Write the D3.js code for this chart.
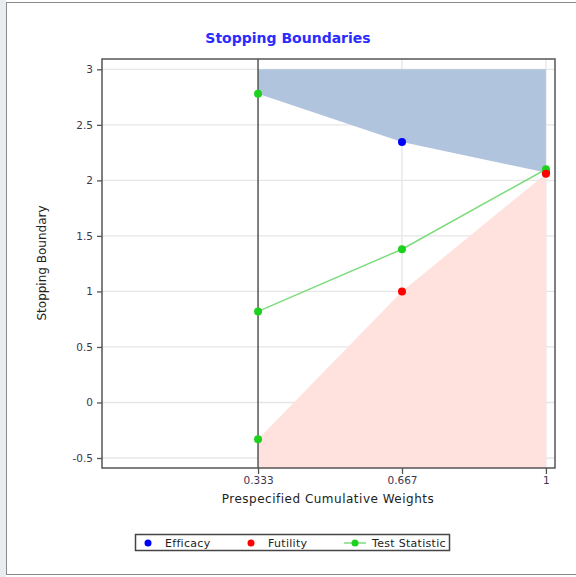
<!DOCTYPE html>
<html>
<head>
<meta charset="utf-8">
<script src="https://cdn.jsdelivr.net/npm/d3@7"></script>
<style>
  html, body { margin: 0; padding: 0; background: #fff; }
  svg { display: block; font-family: "DejaVu Sans", Verdana, sans-serif; }
</style>
</head>
<body>
<div id="chart"></div>
<script>
(function () {
  'use strict';

  // data
  var weights = [1 / 3, 2 / 3, 1];
  var weightLabels = ["0.333", "0.667", "1"];
  var efficacy = [2.78, 2.345, 2.07];
  var futility = [-0.33, 1.0, 2.06];
  var testStat = [0.82, 1.38, 2.10];
  var efficacyCap = 3;
  var yTicks = [-0.5, 0, 0.5, 1, 1.5, 2, 2.5, 3];

  var width = 576, height = 577;
  var left = 102, right = 555, top = 59, bottom = 468;

  var svg = d3.select("#chart").append("svg")
      .attr("width", width)
      .attr("height", height);

  // outer frame
  svg.append("rect").attr("x", 0).attr("y", 0).attr("width", 6).attr("height", height)
      .attr("fill", "#e9edf2");
  svg.append("rect")
      .attr("x", 6.5).attr("y", 2.5)
      .attr("width", width).attr("height", 572)
      .attr("fill", "#fff")
      .attr("stroke", "#8a8a8a");

  var x = d3.scaleLinear().domain([-0.028, 1.021]).range([left, right]);
  var y = d3.scaleLinear().domain([-0.59, 3.093]).range([bottom, top]);

  // title
  svg.append("text")
      .attr("x", 288).attr("y", 43)
      .attr("text-anchor", "middle")
      .attr("fill", "#2b2bff")
      .attr("font-size", 14)
      .attr("font-weight", "bold")
      .text("Stopping Boundaries");

  // gridlines
  svg.append("g").selectAll("line")
    .data(yTicks)
    .enter().append("line")
      .attr("x1", left).attr("x2", right)
      .attr("y1", function(d){ return y(d); })
      .attr("y2", function(d){ return y(d); })
      .attr("stroke", "#e6e6e6").attr("stroke-width", 1.3);

  svg.append("g").selectAll("line")
    .data(weights.slice(1))
    .enter().append("line")
      .attr("x1", function(d){ return x(d); })
      .attr("x2", function(d){ return x(d); })
      .attr("y1", top).attr("y2", bottom)
      .attr("stroke", "#e6e6e6").attr("stroke-width", 1.3);

  // rejection regions
  var effRegion = [[weights[0], efficacyCap]]
    .concat(weights.map(function(w, i){ return [w, efficacy[i]]; }))
    .concat([[weights[2], efficacyCap]]);
  svg.append("path")
      .datum(effRegion)
      .attr("fill", "#b0c4de")
      .attr("d", d3.line().x(function(d){ return x(d[0]); }).y(function(d){ return y(d[1]); }));

  var yMin = y.domain()[0];
  var futRegion = [[weights[0], yMin]]
    .concat(weights.map(function(w, i){ return [w, futility[i]]; }))
    .concat([[weights[2], yMin]]);
  svg.append("path")
      .datum(futRegion)
      .attr("fill", "#ffe1de")
      .attr("d", d3.line().x(function(d){ return x(d[0]); }).y(function(d){ return y(d[1]); }));

  // reference line at first look
  svg.append("line")
      .attr("x1", x(weights[0])).attr("x2", x(weights[0]))
      .attr("y1", top).attr("y2", bottom)
      .attr("stroke", "#555").attr("stroke-width", 1.5);

  // plot frame
  svg.append("rect")
      .attr("x", left).attr("y", top)
      .attr("width", right - left).attr("height", bottom - top)
      .attr("fill", "none")
      .attr("stroke", "#555").attr("stroke-width", 1.5);

  // axes
  var yAxis = svg.append("g")
      .attr("transform", "translate(" + left + ",0)")
      .call(d3.axisLeft(y).tickValues(yTicks).tickSize(5).tickPadding(4)
        .tickFormat(function(d){ return String(d); }));
  var xAxis = svg.append("g")
      .attr("transform", "translate(0," + bottom + ")")
      .call(d3.axisBottom(x).tickValues(weights).tickSize(6).tickPadding(3)
        .tickFormat(function(d, i){ return weightLabels[i]; }));
  [yAxis, xAxis].forEach(function(a){
    a.select(".domain").remove();
    a.selectAll(".tick line").attr("stroke", "#555").attr("stroke-width", 1.3);
    a.selectAll(".tick text").attr("fill", "#3d3550").attr("font-size", 10.5)
      .attr("font-family", "\"DejaVu Sans\", Verdana, sans-serif");
  });

  // axis titles
  svg.append("text")
      .attr("x", 328).attr("y", 503)
      .attr("text-anchor", "middle")
      .attr("fill", "#222").attr("font-size", 12)
      .attr("letter-spacing", 0.5)
      .text("Prespecified Cumulative Weights");
  svg.append("text")
      .attr("transform", "translate(46,263) rotate(-90)")
      .attr("text-anchor", "middle")
      .attr("fill", "#222").attr("font-size", 12)
      .text("Stopping Boundary");

  // markers: first look drawn green as in the reference
  function markerColor(base, i){ return i === 0 ? "#1fd11f" : base; }

  svg.append("g").selectAll("circle")
    .data(efficacy)
    .enter().append("circle")
      .attr("cx", function(d, i){ return x(weights[i]); })
      .attr("cy", function(d){ return y(d); })
      .attr("r", 4)
      .attr("fill", function(d, i){ return markerColor("#0000ff", i); });

  svg.append("path")
      .datum(testStat)
      .attr("fill", "none")
      .attr("stroke", "#7ddc7d").attr("stroke-width", 1.5)
      .attr("d", d3.line().x(function(d, i){ return x(weights[i]); }).y(function(d){ return y(d); }));

  svg.append("g").selectAll("circle")
    .data(testStat)
    .enter().append("circle")
      .attr("cx", function(d, i){ return x(weights[i]); })
      .attr("cy", function(d){ return y(d); })
      .attr("r", 4)
      .attr("fill", "#1fd11f");

  svg.append("g").selectAll("circle")
    .data(futility)
    .enter().append("circle")
      .attr("cx", function(d, i){ return x(weights[i]); })
      .attr("cy", function(d){ return y(d); })
      .attr("r", 4)
      .attr("fill", function(d, i){ return markerColor("#ff0000", i); });

  // legend
  var legend = svg.append("g");
  legend.append("rect")
      .attr("x", 135.5).attr("y", 534.5)
      .attr("width", 314).attr("height", 16)
      .attr("fill", "#fff")
      .attr("stroke", "#444").attr("stroke-width", 1.5);
  var items = [
    { label: "Efficacy", color: "#0000ff", lx: 148, line: false },
    { label: "Futility", color: "#ff0000", lx: 251, line: false },
    { label: "Test Statistic", color: "#1fd11f", lx: 355, line: true }
  ];
  items.forEach(function(d){
    if (d.line) {
      legend.append("line")
          .attr("x1", d.lx - 11).attr("x2", d.lx + 11)
          .attr("y1", 543).attr("y2", 543)
          .attr("stroke", "#7ddc7d").attr("stroke-width", 1.5);
    }
    legend.append("circle")
        .attr("cx", d.lx).attr("cy", 543).attr("r", 3.5)
        .attr("fill", d.color);
    legend.append("text")
        .attr("x", d.lx + 17).attr("y", 547)
        .attr("fill", "#222").attr("font-size", 11)
        .attr("letter-spacing", 0.3)
        .text(d.label);
  });
}());
</script>
</body>
</html>
